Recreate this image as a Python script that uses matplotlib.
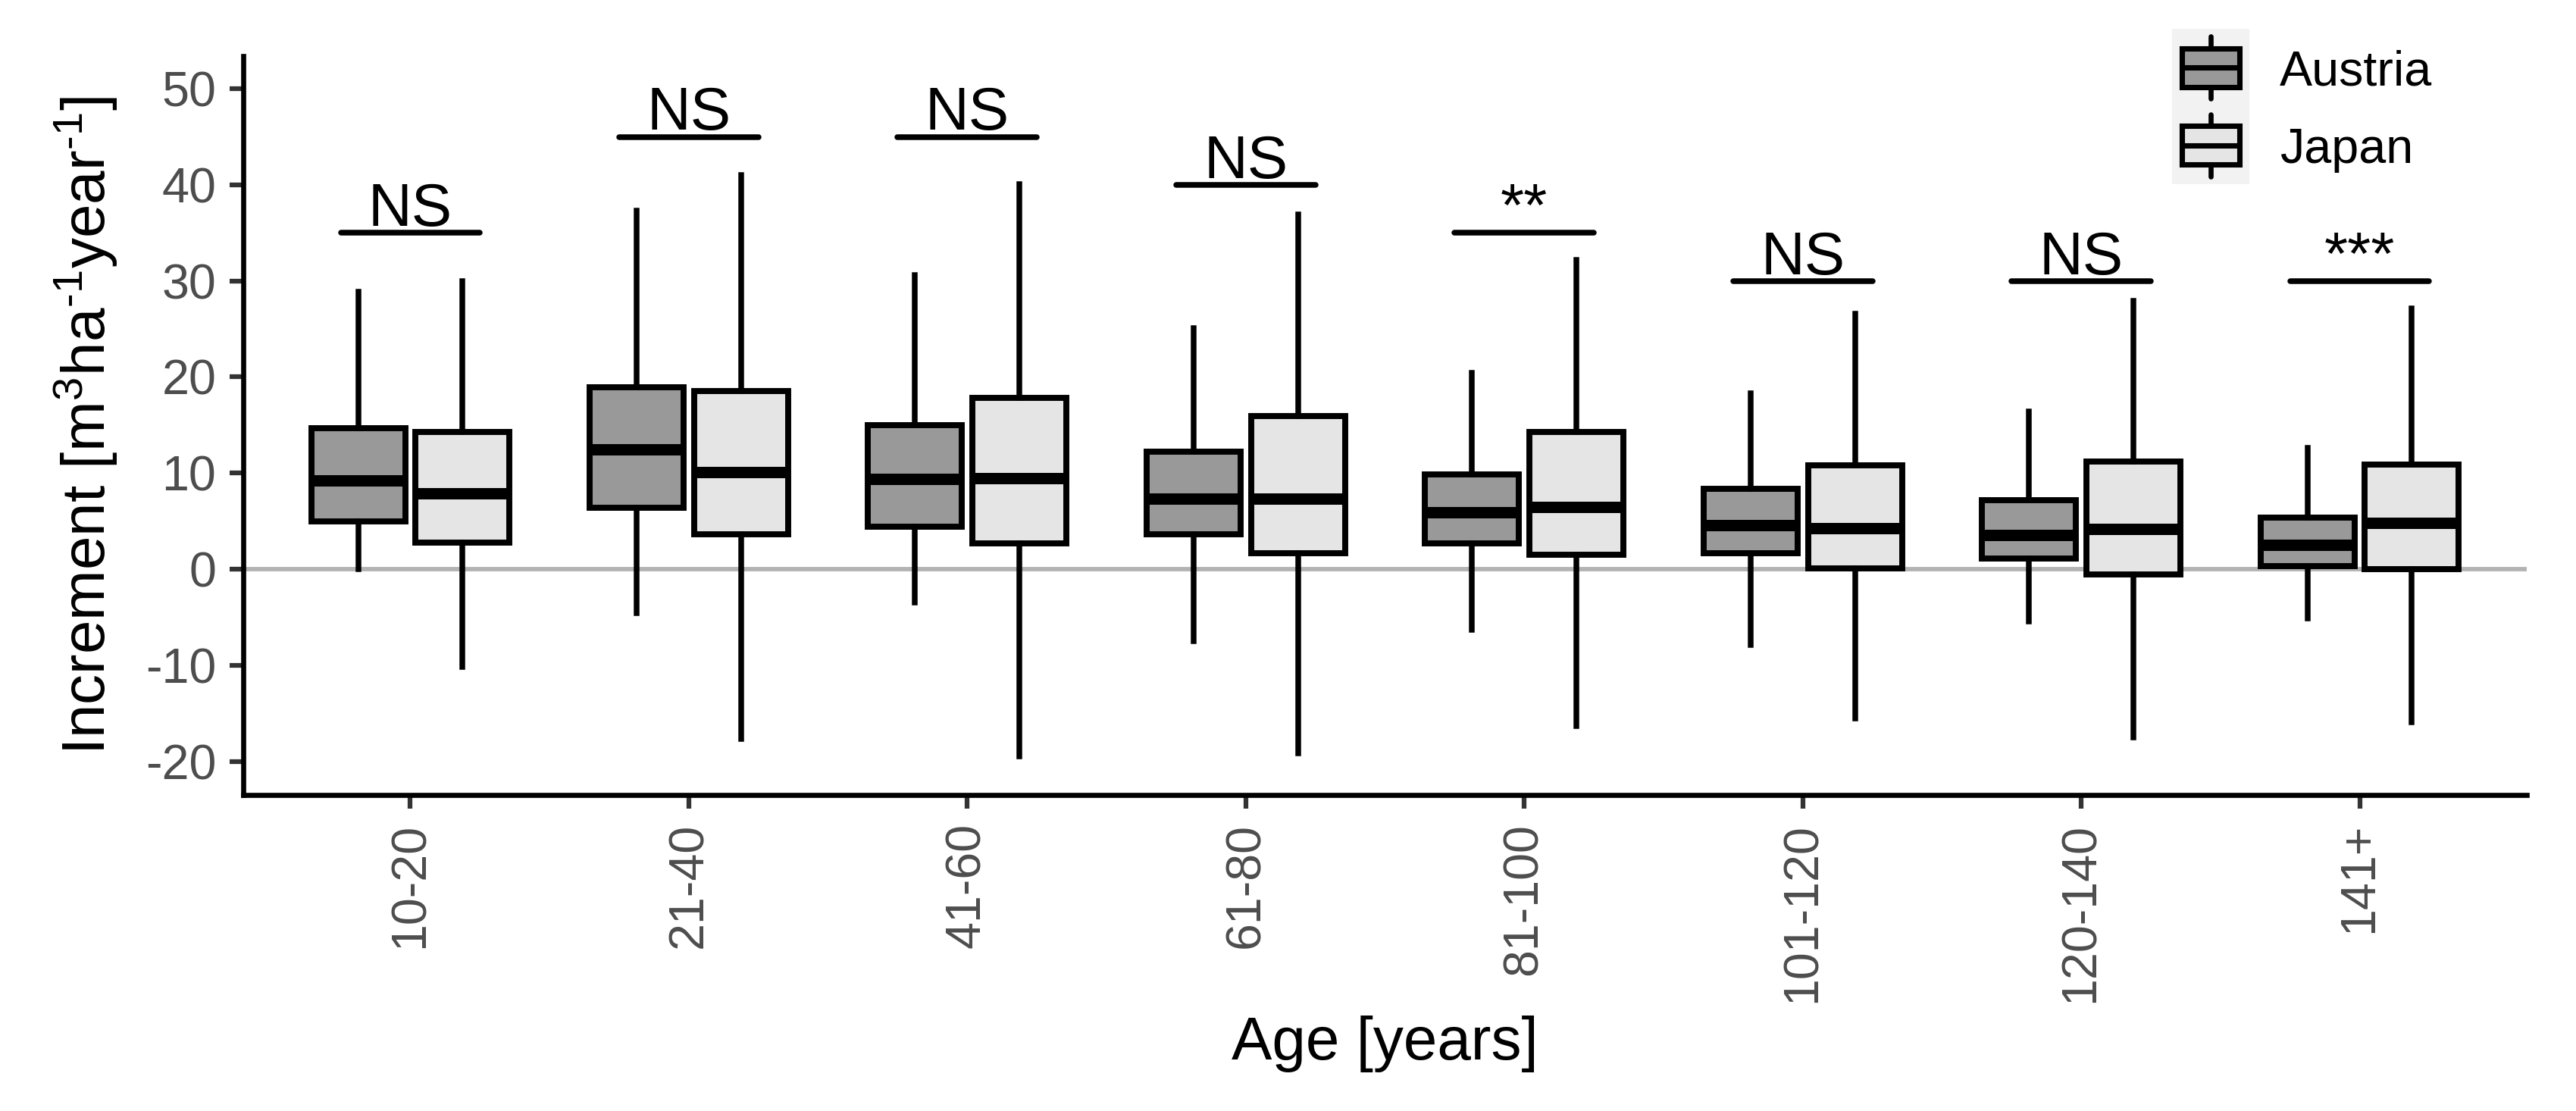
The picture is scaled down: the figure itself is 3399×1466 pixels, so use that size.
import numpy as np
import matplotlib.pyplot as plt
from matplotlib.patches import Rectangle


plt.rcParams.update({'font.family': 'Liberation Sans',
                     'mathtext.fontset': 'custom',
                     'mathtext.rm': 'Liberation Sans',
                     'mathtext.it': 'Liberation Sans:italic',
                     'mathtext.bf': 'Liberation Sans:bold',
                     'mathtext.default': 'regular',
                     'axes.unicode_minus': False})

ages = ['10-20', '21-40', '41-60', '61-80', '81-100', '101-120', '120-140', '141+']
countries = ['Austria', 'Japan']
fills = ['#999999', '#e5e5e5']

# box statistics
aut_lo = [0.0, -4.6, -3.5, -7.5, -6.3, -7.9, -5.4, -5.1]
aut_q1 = [5.0, 6.4, 4.4, 3.6, 2.65, 1.65, 1.1, 0.35]
aut_med = [9.25, 12.45, 9.4, 7.3, 5.9, 4.55, 3.55, 2.5]
aut_q3 = [14.7, 18.9, 14.95, 12.2, 9.9, 8.35, 7.2, 5.4]
aut_hi = [28.85, 37.3, 30.6, 25.1, 20.4, 18.3, 16.4, 12.6]

jap_lo = [-10.2, -17.7, -19.5, -19.2, -16.3, -15.5, -17.5, -15.9]
jap_q1 = [2.8, 3.6, 2.65, 1.65, 1.5, 0.1, -0.55, 0.0]
jap_med = [7.9, 10.1, 9.5, 7.3, 6.5, 4.25, 4.2, 4.8]
jap_q3 = [14.3, 18.55, 17.8, 15.9, 14.3, 10.8, 11.2, 10.9]
jap_hi = [29.95, 41.0, 40.1, 36.9, 32.2, 26.6, 27.9, 27.1]

sig_y = [35, 45, 45, 40, 35, 30, 30, 30]
sig_labels = ['NS', 'NS', 'NS', 'NS', '**', 'NS', 'NS', '***']


def box_stats(lo, q1, med, q3, hi):
    return [dict(whislo=a, q1=b, med=c, q3=d, whishi=e)
            for a, b, c, d, e in zip(lo, q1, med, q3, hi)]


austria = box_stats(aut_lo, aut_q1, aut_med, aut_q3, aut_hi)
japan = box_stats(jap_lo, jap_q1, jap_med, jap_q3, jap_hi)

fig = plt.figure(figsize=(3399/300, 1466/300), dpi=300)
ax = fig.add_axes([0.09444, 0.28445, 0.98088 - 0.09444, 0.94952 - 0.28445])

pos = np.arange(1, len(ages) + 1)
dodge = 0.1875
width = 0.3375

ax.axhline(0, color='#b3b3b3', lw=1.4, zorder=1)

for stats, offset, fill in [(austria, -dodge, fills[0]), (japan, dodge, fills[1])]:
    ax.bxp(stats, positions=pos + offset, widths=width, patch_artist=True,
           showcaps=False, showfliers=False, manage_ticks=False,
           boxprops=dict(facecolor=fill, edgecolor='black', linewidth=1.9),
           medianprops=dict(color='black', linewidth=3.6, solid_capstyle='butt'),
           whiskerprops=dict(color='black', linewidth=1.8),
           zorder=3)

# significance bars
ax.hlines(sig_y, pos - 0.25, pos + 0.25, color='black', lw=1.8, capstyle='round', zorder=3)
for x, y, lab in zip(pos, sig_y, sig_labels):
    ax.annotate(lab, (x, y), xytext=(0, 2.2), textcoords='offset points',
                ha='center', va='baseline', fontsize=19.2)

ax.set_xlim(0.4, 8.6)
ax.set_ylim(-23.5, 53.4)
ax.set_yticks(np.arange(-20, 51, 10))
ax.set_xticks(pos, ages, rotation=90)

for s in ['top', 'right']:
    ax.spines[s].set_visible(False)
for s in ['left', 'bottom']:
    ax.spines[s].set_linewidth(1.6)
ax.tick_params(length=4.3, width=1.5, color='#333333', labelsize=15.5, labelcolor='#4d4d4d')
ax.tick_params(axis='x', pad=4.5)
ax.tick_params(axis='y', pad=4.3)

ax.set_ylabel(r'Increment [m$^{3}$ha$^{\text{-}1}$year$^{\text{-}1}$]', fontsize=19.2)
ax.yaxis.set_label_coords(-0.054, 0.5)
ax.set_xlabel('Age [years]', fontsize=19.2)
ax.xaxis.set_label_coords(0.5, -0.2985)

# legend drawn as small boxplot keys
lax = fig.add_axes([2866/3399, 1 - 243/1466, 102/3399, 205/1466])
lax.set_xlim(0, 1)
lax.set_ylim(0, 2)
lax.axis('off')
lax.add_patch(Rectangle((0, 0), 1, 2, facecolor='#f2f2f2', edgecolor='none'))
for i, (name, fill) in enumerate(zip(countries, fills)):
    base = 1 - i
    lax.add_patch(Rectangle((0.125, base + 0.25), 0.75, 0.5, facecolor=fill,
                            edgecolor='black', lw=1.7, zorder=3))
    lax.plot([0.125, 0.875], [base + 0.5] * 2, color='black', lw=1.7,
             solid_capstyle='butt', zorder=4)
    lax.plot([0.5, 0.5], [base + 0.1, base + 0.25], color='black', lw=1.6,
             solid_capstyle='round', zorder=2)
    lax.plot([0.5, 0.5], [base + 0.75, base + 0.9], color='black', lw=1.6,
             solid_capstyle='round', zorder=2)
    lax.text(1.39, base + 0.5 - 0.225, name, va='baseline', fontsize=15.5)

fig.savefig('out.png', dpi=300)
